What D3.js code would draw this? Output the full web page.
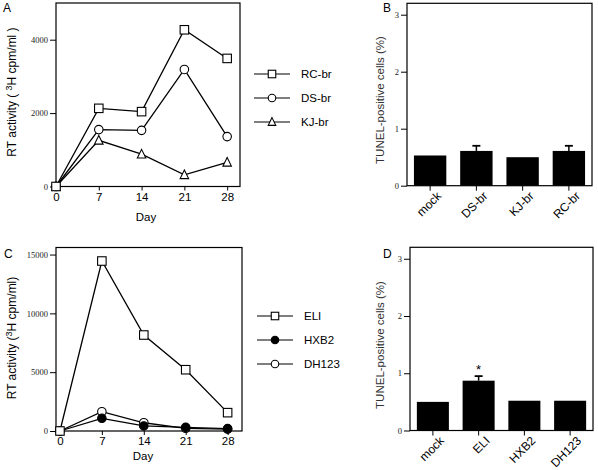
<!DOCTYPE html>
<html><head><meta charset="utf-8">
<script src="https://cdn.jsdelivr.net/npm/d3@7"></script>
<style>body{margin:0;background:#fff}svg{display:block}</style>
</head><body>
<svg id="c" width="598" height="470"></svg>
<script>
// ---------- data ----------
const days = [0, 7, 14, 21, 28];
const seriesA = ["RC-br", "DS-br", "KJ-br"];
const rcBr = [0, 2130, 2040, 4270, 3490];
const dsBr = [0, 1550, 1530, 3190, 1360];
const kjBr = [0, 1260, 880, 320, 660];
const yTicksA = [0, 2000, 4000];

const seriesC = ["ELI", "HXB2", "DH123"];
const eli = [0, 14450, 8160, 5210, 1560];
const hxb2 = [0, 1080, 430, 310, 200];
const dh123 = [0, 1640, 700, 230, 160];
const yTicksC = [0, 5000, 10000, 15000];

const catsB = ["mock", "DS-br", "KJ-br", "RC-br"];
const valsB = [0.53, 0.61, 0.50, 0.61];
const errB = [0, 0.09, 0, 0.09];
const catsD = ["mock", "ELI", "HXB2", "DH123"];
const valsD = [0.50, 0.87, 0.52, 0.52];
const errD = [0, 0.08, 0, 0];
const sigD = [false, true, false, false];
const yTicksBar = [0, 1, 2, 3];

// ---------- drawing ----------
const svg = d3.select("#c");
const sans = "Liberation Sans, Arial, sans-serif";
const serif = "Liberation Serif, Times New Roman, serif";

function frame(g, x0, x1, y0, y1) {
  g.append("rect").attr("x", x0).attr("y", y0).attr("width", x1 - x0).attr("height", y1 - y0)
    .attr("fill", "none").attr("stroke", "#000").attr("stroke-width", 1.2);
}

function yAxis(g, y, ticks, x0, fmt) {
  const ax = g.append("g").attr("transform", `translate(${x0},0)`)
    .call(d3.axisLeft(y).tickValues(ticks).tickSize(6).tickPadding(2).tickFormat(fmt || d3.format("d")));
  ax.select(".domain").remove();
  ax.selectAll("line").attr("stroke", "#000").attr("stroke-width", 1);
  ax.selectAll("text").attr("font-family", serif).attr("font-size", 8.5).attr("fill", "#222");
}

function marker(g, type, cx, cy, s) {
  if (type === "square") {
    g.append("rect").attr("x", cx - s / 2).attr("y", cy - s / 2).attr("width", s).attr("height", s)
      .attr("fill", "#fff").attr("stroke", "#000").attr("stroke-width", 1.1);
  } else if (type === "circle" || type === "dot") {
    g.append("circle").attr("cx", cx).attr("cy", cy).attr("r", s / 2)
      .attr("fill", type === "dot" ? "#000" : "#fff").attr("stroke", "#000").attr("stroke-width", 1.1);
  } else if (type === "triangle") {
    const h = s * 0.9;
    g.append("path").attr("d", `M${cx},${cy - h / 2 - 1}L${cx + s / 2},${cy + h / 2}L${cx - s / 2},${cy + h / 2}Z`)
      .attr("fill", "#fff").attr("stroke", "#000").attr("stroke-width", 1.1);
  }
}

function linePanel(opt) {
  const g = svg.append("g");
  const x = d3.scaleLinear().domain(opt.xDomain).range([opt.x0, opt.x1]);
  const y = d3.scaleLinear().domain(opt.yDomain).range([opt.y1, opt.y0]);
  frame(g, opt.x0, opt.x1, opt.y0, opt.y1);
  yAxis(g, y, opt.yTicks, opt.x0);
  const xa = g.append("g").attr("transform", `translate(0,${opt.y1})`)
    .call(d3.axisBottom(x).tickValues(days).tickSize(4).tickPadding(2));
  xa.select(".domain").remove();
  xa.selectAll("line").attr("stroke", "#000");
  xa.selectAll("text").attr("font-family", sans).attr("font-size", 11.5).attr("fill", "#000");
  g.append("text").attr("x", opt.dayX).attr("y", opt.dayY).attr("text-anchor", "middle")
    .attr("font-family", sans).attr("font-size", 11.5).text("Day");
  const line = d3.line().x((d, i) => x(days[i])).y(d => y(d));
  opt.series.slice().reverse().forEach(s => {
    g.append("path").attr("d", line(s.values)).attr("fill", "none").attr("stroke", "#000").attr("stroke-width", 1.3);
  });
  opt.series.slice().reverse().forEach(s => {
    s.values.forEach((v, i) => marker(g, s.marker, x(days[i]), y(v), 8.5));
  });
  opt.series.forEach((s, i) => {
    const ly = opt.legY + i * 24;
    g.append("line").attr("x1", opt.legX).attr("x2", opt.legX + 36).attr("y1", ly).attr("y2", ly)
      .attr("stroke", "#000").attr("stroke-width", 1.2);
    marker(g, s.marker, opt.legX + 18, ly, 7.5);
    g.append("text").attr("x", opt.legX + 47).attr("y", ly + 4).attr("font-family", sans)
      .attr("font-size", 11.5).text(s.name);
  });
  const t = g.append("text").attr("transform", `translate(${opt.labX},${opt.labY}) rotate(-90)`)
    .attr("text-anchor", "middle").attr("font-family", sans).attr("font-size", 12);
  t.append("tspan").text(opt.labPre);
  t.append("tspan").attr("dy", -4).attr("font-size", 9).text("3");
  t.append("tspan").attr("dy", 4).text(opt.labPost);
  g.append("text").attr("x", opt.letterX).attr("y", opt.letterY).attr("font-family", sans)
    .attr("font-size", 12).text(opt.letter);
}

function barPanel(opt) {
  const g = svg.append("g");
  const x = d3.scaleBand().domain(opt.cats).range([opt.x0, opt.x1]).paddingInner(0.3).paddingOuter(0.15);
  const y = d3.scaleLinear().domain([0, 3.2]).range([opt.y1, opt.y0]);
  g.selectAll(".bar").data(opt.vals).enter().append("rect")
    .attr("x", (d, i) => x(opt.cats[i])).attr("width", x.bandwidth())
    .attr("y", d => y(d)).attr("height", d => y(0) - y(d)).attr("fill", "#000");
  opt.vals.forEach((v, i) => {
    if (opt.err[i] > 0) {
      const cx = x(opt.cats[i]) + x.bandwidth() / 2;
      g.append("line").attr("x1", cx).attr("x2", cx).attr("y1", y(v)).attr("y2", y(v + opt.err[i]))
        .attr("stroke", "#000").attr("stroke-width", 1.5);
      g.append("line").attr("x1", cx - 4).attr("x2", cx + 4).attr("y1", y(v + opt.err[i])).attr("y2", y(v + opt.err[i]))
        .attr("stroke", "#000").attr("stroke-width", 1.8);
    }
    if (opt.sig && opt.sig[i]) {
      const cx = x(opt.cats[i]) + x.bandwidth() / 2;
      g.append("text").attr("x", cx).attr("y", y(v + opt.err[i]) - 2).attr("text-anchor", "middle")
        .attr("font-family", sans).attr("font-size", 13).text("*");
    }
  });
  frame(g, opt.x0, opt.x1, opt.y0, opt.y1);
  yAxis(g, y, yTicksBar, opt.x0);
  const xa = g.append("g").attr("transform", `translate(0,${opt.y1})`)
    .call(d3.axisBottom(x).tickSize(5).tickPadding(0));
  xa.select(".domain").remove();
  xa.selectAll("line").attr("stroke", "#000");
  xa.selectAll("text").attr("font-family", sans).attr("font-size", 12).attr("fill", "#000")
    .attr("text-anchor", "end").attr("y", 0).attr("dy", "0.35em")
    .attr("transform", "translate(9,8) rotate(-45)");
  g.append("text").attr("transform", `translate(${opt.labX},${opt.labY}) rotate(-90)`)
    .attr("text-anchor", "middle").attr("font-family", sans).attr("font-size", 11.5).attr("fill", "#333")
    .text("TUNEL-positive cells (%)");
  g.append("text").attr("x", opt.letterX).attr("y", opt.letterY).attr("font-family", sans)
    .attr("font-size", 12).text(opt.letter);
}

linePanel({
  x0: 56, x1: 240, y0: 3, y1: 186.5, xDomain: [0, 30.1], yDomain: [0, 5000], yTicks: yTicksA,
  series: [
    {name: seriesA[0], values: rcBr, marker: "square"},
    {name: seriesA[1], values: dsBr, marker: "circle"},
    {name: seriesA[2], values: kjBr, marker: "triangle"}
  ],
  legX: 254, legY: 74, dayX: 146, dayY: 221,
  labX: 16, labY: 92, labPre: "RT activity ( ", labPost: "H cpm/ml )",
  letter: "A", letterX: 3, letterY: 12
});

linePanel({
  x0: 56, x1: 242, y0: 247.5, y1: 431, xDomain: [-0.66, 30.4], yDomain: [0, 15600], yTicks: yTicksC,
  series: [
    {name: seriesC[0], values: eli, marker: "square"},
    {name: seriesC[1], values: hxb2, marker: "dot"},
    {name: seriesC[2], values: dh123, marker: "circle"}
  ],
  legX: 257, legY: 316, dayX: 143, dayY: 460,
  labX: 16, labY: 338, labPre: "RT activity (", labPost: "H cpm/ml)",
  letter: "C", letterX: 4, letterY: 258
});

barPanel({
  x0: 407, x1: 592, y0: 3.3, y1: 185.7, cats: catsB, vals: valsB, err: errB,
  labX: 384, labY: 100, letter: "B", letterX: 383, letterY: 12
});

barPanel({
  x0: 410, x1: 593, y0: 247.3, y1: 430.5, cats: catsD, vals: valsD, err: errD, sig: sigD,
  labX: 384, labY: 345, letter: "D", letterX: 383, letterY: 258
});
</script>
</body></html>
